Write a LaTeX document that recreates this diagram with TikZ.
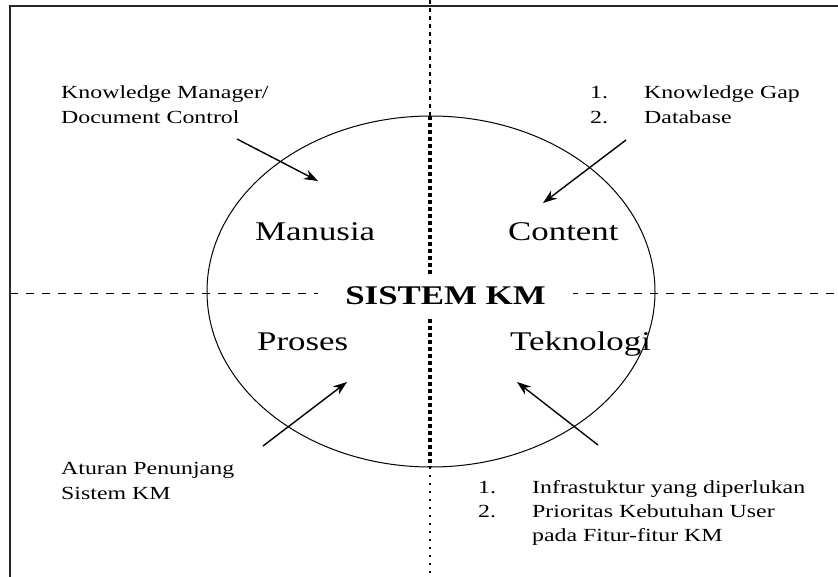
\documentclass[tikz,border=0pt]{standalone}
\usepackage{fontspec}
\setmainfont[FakeStretch=1.29]{Liberation Serif}
\usetikzlibrary{arrows.meta}

\tikzset{
  kecil/.style={font=\fontsize{18.5}{25}\selectfont, inner sep=0pt, anchor=base west},
  besar/.style={font=\fontsize{27}{30}\selectfont, inner sep=0pt, anchor=base west},
  panah/.style={->, line width=1.4pt},
  putus/.style={line width=0.9pt, dash pattern=on 8pt off 8pt},
  titiktipis/.style={line width=1.4pt, dash pattern=on 4pt off 4pt},
  titiktebal/.style={line width=3.2pt, dash pattern=on 4pt off 3pt},
  titikjarang/.style={line width=1.1pt, dash pattern=on 2pt off 6pt},
}

\begin{document}
\begin{tikzpicture}[>={Stealth[length=14pt,width=10pt]},x=1pt,y=-1pt]
	\useasboundingbox (0,0) rectangle (838,576);
	% bingkai
	\draw[line width=1.6pt,black!85] (10,6) rectangle (850,590);
	% sumbu
	\draw[putus] (10,293) -- (838,293);
	\draw[titiktipis] (430,0) -- (430,116);
	\draw[titiktebal] (430,116) -- (430,467);
	\draw[titikjarang] (430,467) -- (430,576);
	% lingkaran
	\draw[line width=1pt] (431,291.5) ellipse (224pt and 175.5pt);
	% pusat
	\node[besar,anchor=center,font=\fontsize{27}{30}\selectfont\bfseries,fill=white,inner xsep=27pt,inner ysep=12pt] (sistem) at (445.5,296) {SISTEM KM};
	\node[besar] (manusia) at (255,240) {Manusia};
	\node[besar] (content) at (508,240) {Content};
	\node[besar] (proses) at (257,350) {Proses};
	\node[besar] (teknologi) at (510,350) {Teknologi};
	% keterangan
	\node[kecil] (km) at (61,98) {\begin{tabular}[t]{@{}l@{}}Knowledge Manager/\\Document Control\end{tabular}};
	\node[kecil] (gap) at (590,98) {\begin{tabular}[t]{@{}p{54pt}@{}l@{}}1.&Knowledge Gap\\2.&Database\end{tabular}};
	\node[kecil] (aturan) at (61,474) {\begin{tabular}[t]{@{}l@{}}Aturan Penunjang\\Sistem KM\end{tabular}};
	\node[kecil,font=\fontsize{18.5}{24}\selectfont] (infra) at (478,493) {\begin{tabular}[t]{@{}p{54pt}@{}l@{}}1.&Infrastuktur yang diperlukan\\2.&Prioritas Kebutuhan User\\&pada Fitur-fitur KM\end{tabular}};
	% panah
	\coordinate (p1) at (237,139); \coordinate (q1) at (318,181);
	\coordinate (p2) at (626,140); \coordinate (q2) at (543,203);
	\coordinate (p3) at (263,446); \coordinate (q3) at (347,382);
	\coordinate (p4) at (598,445); \coordinate (q4) at (517,382);
	\draw[panah] (p1) -- (q1);
	\draw[panah] (p2) -- (q2);
	\draw[panah] (p3) -- (q3);
	\draw[panah] (p4) -- (q4);
\end{tikzpicture}
\end{document}
